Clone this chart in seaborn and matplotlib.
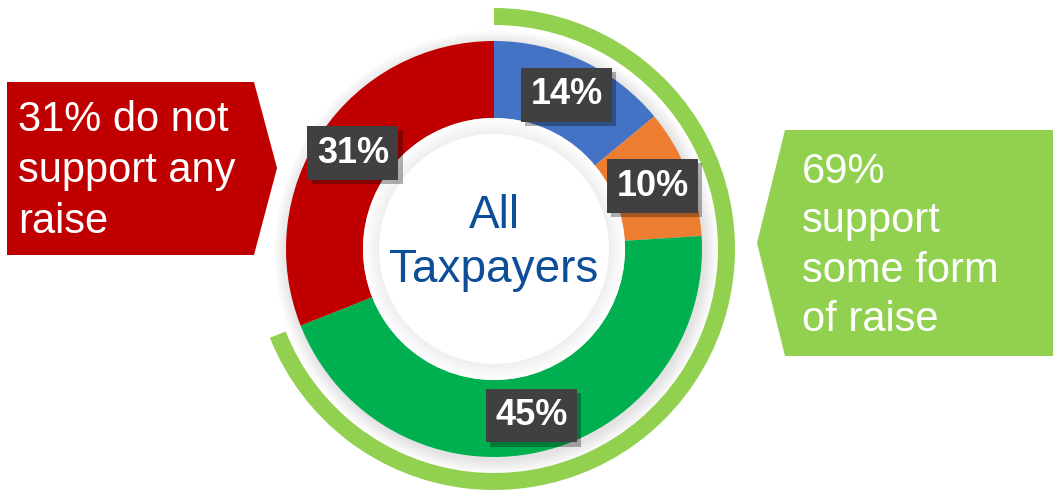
import matplotlib
matplotlib.use("Agg")
import matplotlib.pyplot as plt
import matplotlib.patheffects as pe
from matplotlib.patches import Circle, Polygon
import seaborn as sns

# Data
categories = ["Raise A", "Raise B", "Raise C", "No raise"]
shares = [14, 10, 45, 31]
slice_colors = ["#4472C4", "#ED7D31", "#00B050", "#C00000"]
support_total = [69, 31]
center_label = "All\nTaxpayers"
left_note = "31% do not\nsupport any\nraise"
right_note = "69%\nsupport\nsome form\nof raise"

sns.set_theme(style="white")
plt.rcParams["font.family"] = ["Liberation Sans", "DejaVu Sans"]

W, H = 1053, 497
fig = plt.figure(figsize=(W / 100, H / 100), dpi=100)
ax = fig.add_axes([0, 0, 1, 1])
ax.set_xlim(0, W)
ax.set_ylim(0, H)
ax.set_aspect("equal")
ax.axis("off")

cx, cy = 494, H - 249
r_out, r_in = 208, 131

# soft shadow around the ring and inside the hole
for i in range(14):
    ax.add_patch(Circle((cx + 2, cy - 3), r_out + 14 - i, color="#000000",
                        alpha=0.009, lw=0, zorder=1))
ax.add_patch(Circle((cx, cy), r_in, color="white", lw=0, zorder=3))
for i in range(16):
    ax.add_patch(Circle((cx, cy), r_in - i, color="#000000",
                        alpha=0.004, lw=0, zorder=3))
ax.add_patch(Circle((cx, cy), r_in - 16, color="white", lw=0, zorder=3))

# main donut
wedges, _, autotexts = ax.pie(
    shares, colors=slice_colors, startangle=90, counterclock=False,
    radius=r_out, center=(cx, cy), frame=True,
    wedgeprops=dict(width=r_out - r_in, linewidth=0),
    autopct=lambda p: f"{p:.0f}%", pctdistance=0.82,
    textprops=dict(color="white", fontsize=26, fontweight="bold"))
for w in wedges:
    w.set_zorder(2)
for t in autotexts:
    t.set_zorder(6)
    t.set_bbox(dict(boxstyle="square,pad=0.26", facecolor="#404040",
                    edgecolor="none"))
    t.get_bbox_patch().set_path_effects(
        [pe.SimplePatchShadow(offset=(3, -3), shadow_rgbFace="black", alpha=0.3),
         pe.Normal()])

# outer arc for total support
arc, _ = ax.pie(support_total, colors=["#92D050", "none"], startangle=90,
                counterclock=False, radius=241, center=(cx, cy), frame=True,
                wedgeprops=dict(width=17, linewidth=0))
ax.set_xlim(0, W)
ax.set_ylim(0, H)
ax.axis("off")

ax.text(cx, cy + 6, center_label, ha="center", va="center", fontsize=33,
        color="#0E4D98", linespacing=1.3, zorder=7)

# callouts
ax.add_patch(Polygon([(7, H - 82), (254, H - 82), (277, H - 168),
                      (254, H - 255), (7, H - 255)], closed=True,
                     facecolor="#C00000", edgecolor="none", zorder=4))
ax.text(18, H - 171, left_note, ha="left", va="center", fontsize=30,
        color="white", linespacing=1.36, zorder=5)

ax.add_patch(Polygon([(785, H - 130), (W, H - 130), (W, H - 356),
                      (785, H - 356), (757, H - 243)], closed=True,
                     facecolor="#92D050", edgecolor="none", zorder=4))
ax.text(802, H - 246, right_note, ha="left", va="center", fontsize=30,
        color="white", linespacing=1.3, zorder=5)

fig.savefig("out.png", dpi=100, facecolor="white")
